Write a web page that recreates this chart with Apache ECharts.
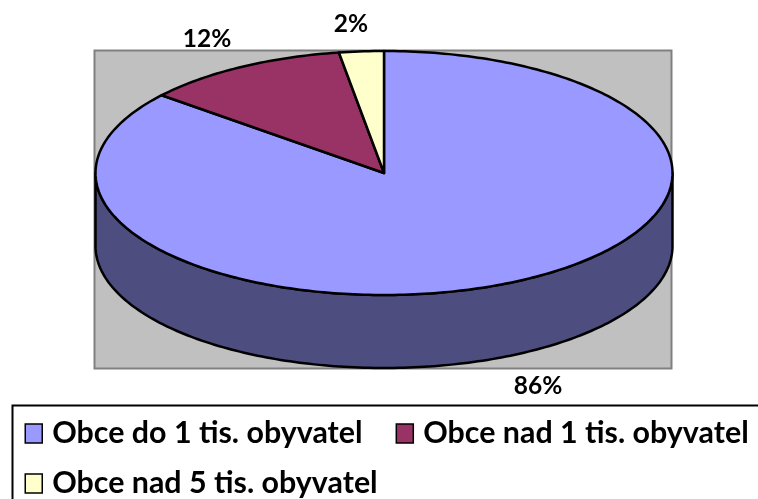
<!DOCTYPE html>
<html><head><meta charset="utf-8">
<style>html,body{margin:0;padding:0;background:#fff}#c{width:758px;height:499px}</style>
<script src="https://cdn.jsdelivr.net/npm/echarts@6/dist/echarts.min.js"></script>
</head><body><div id="c"></div>
<script>
const categories = ['Obce do 1 tis. obyvatel','Obce nad 1 tis. obyvatel','Obce nad 5 tis. obyvatel'];
const values = [86, 11.5, 2.5];
const labels = ['86%','12%','2%'];
const colors = ['#9999FF','#993366','#FFFFCC'];
const wallColors = ['#4D4D80','#4D1A33','#808066'];

const FONT = 'Lato';
const PIE = {cx:384, cy:173, rx:288.5, ry:122, depth:73};
const LABEL_POS = [[538,386],[207,39],[351,24]];
const total = values.reduce((a,b)=>a+b,0);
const ptAt = (deg, dy=0) => {
  const t = deg*Math.PI/180;
  return [PIE.cx + PIE.rx*Math.sin(t), PIE.cy - PIE.ry*Math.cos(t) + dy];
};
function renderSlice(idx){
  return function(){
    let before = 0;
    for(let i=0;i<idx;i++) before += values[i];
    const a0 = before/total*360, a1 = (before+values[idx])/total*360;
    const children = [];
    const w0 = Math.max(a0,90), w1 = Math.min(a1,270);
    if(w1>w0){
      const pts=[];
      for(let a=w0;a<w1;a+=1) pts.push(ptAt(a));
      pts.push(ptAt(w1));
      for(let a=w1;a>w0;a-=1) pts.push(ptAt(a,PIE.depth));
      pts.push(ptAt(w0,PIE.depth));
      children.push({type:'polygon',shape:{points:pts},
        style:{fill:wallColors[idx],stroke:'#000',lineWidth:2.5,lineJoin:'round'}});
    }
    const top=[[PIE.cx,PIE.cy]];
    for(let a=a0;a<a1;a+=1) top.push(ptAt(a));
    top.push(ptAt(a1));
    children.push({type:'polygon',shape:{points:top},
      style:{fill:colors[idx],stroke:'#000',lineWidth:2.5,lineJoin:'round'}});
    children.push({type:'text',z2:100,style:{x:LABEL_POS[idx][0],y:LABEL_POS[idx][1],text:labels[idx],
      fill:'#000',font:'bold 24.5px '+FONT,align:'center',verticalAlign:'middle'}});
    return {type:'group',children};
  };
}
const chart = echarts.init(document.getElementById('c'),null,{renderer:'canvas'});
chart.setOption({
  animation:false,
  backgroundColor:'#fff',
  graphic:[
    {type:'rect',z:-1,shape:{x:94.5,y:50.5,width:577,height:318},
      style:{fill:'#C0C0C0',stroke:'#808080',lineWidth:2}},
    {type:'rect',z:-1,shape:{x:12.5,y:405.5,width:760,height:110},
      style:{fill:'#fff',stroke:'#000',lineWidth:2}}
  ],
  legend:{
    left:24.5,top:418.5,width:790,padding:0,
    itemWidth:17,itemHeight:19,itemGap:20,
    icon:'rect',
    selectedMode:false,
    data:categories,
    itemStyle:{borderColor:'#000',borderWidth:1.5},
    textStyle:{fontFamily:FONT,fontWeight:'bold',fontSize:30.4,lineHeight:19,color:'#000',padding:[0,13,0,5]}
  },
  series:categories.map((name,i)=>({
    type:'custom',name,coordinateSystem:'none',silent:true,
    itemStyle:{color:colors[i]},
    renderItem:renderSlice(i),
    data:[values[i]]
  }))
});
</script></body></html>
